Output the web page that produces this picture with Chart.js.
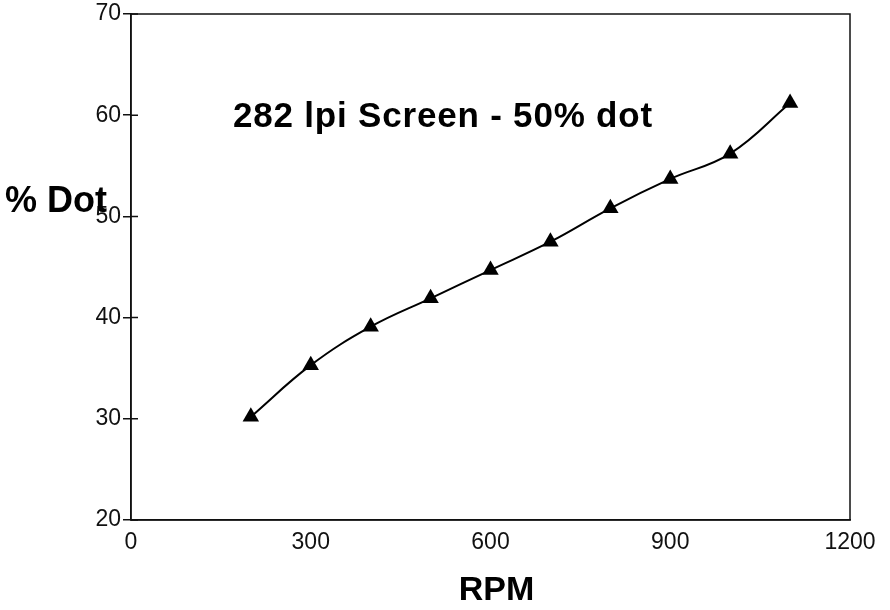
<!DOCTYPE html>
<html>
<head>
<meta charset="utf-8">
<title>282 lpi Screen - 50% dot</title>
<script src="https://cdn.jsdelivr.net/npm/chart.js@4/dist/chart.umd.min.js"></script>
<style>
  html, body { margin: 0; padding: 0; background: #fff; }
  #wrap { width: 890px; height: 610px; }
</style>
</head>
<body>
<div id="wrap"><canvas id="dotChart" width="890" height="610"></canvas></div>
<script>
  // press speed vs measured dot area
  const rpm = [200, 300, 400, 500, 600, 700, 800, 900, 1000, 1100];
  const dotPct = [30.2, 35.3, 39.1, 41.9, 44.7, 47.5, 50.8, 53.7, 56.2, 61.2];
  const xTicks = [0, 300, 600, 900, 1200];
  const yTicks = [20, 30, 40, 50, 60, 70];

  const chartTitle = "282 lpi Screen - 50% dot";
  const xTitle = "RPM";
  const yTitle = "% Dot";

  const fontFam = "'Liberation Sans', Arial, sans-serif";

  // frame, inner tick stubs and free text labels
  const textLabels = {
    id: 'textLabels',
    afterDraw(chart) {
      const { ctx, chartArea: a } = chart;
      const ys = chart.scales.y;
      ctx.save();
      ctx.strokeStyle = '#111';
      ctx.lineWidth = 1.5;
      ctx.strokeRect(a.left, a.top, a.right - a.left, a.bottom - a.top);
      ctx.beginPath();
      yTicks.forEach(v => {
        const py = ys.getPixelForValue(v);
        ctx.moveTo(a.left, py);
        ctx.lineTo(a.left + 7, py);
      });
      ctx.stroke();

      ctx.fillStyle = '#000';
      ctx.textBaseline = 'alphabetic';
      ctx.textAlign = 'left';
      ctx.font = "bold 35px " + fontFam;
      ctx.letterSpacing = '0.8px';
      ctx.fillText(chartTitle, 233, 127);
      ctx.letterSpacing = '0px';
      ctx.font = "bold 36px " + fontFam;
      ctx.fillText(yTitle, 5, 212);
      ctx.font = "bold 34px " + fontFam;
      ctx.textAlign = 'center';
      ctx.fillText(xTitle, (a.left + a.right) / 2 + 6, 600);
      ctx.restore();
    }
  };

  const data = {
    datasets: [{
      label: chartTitle,
      data: rpm.map((x, i) => ({ x: x, y: dotPct[i] })),
      borderColor: '#000',
      backgroundColor: '#000',
      borderWidth: 2,
      tension: 0.4,
      pointStyle: 'triangle',
      pointRadius: 9.5,
      pointBorderWidth: 0,
    }]
  };

  const config = {
    type: 'line',
    data: data,
    options: {
      responsive: false,
      animation: false,
      layout: { padding: { top: 14, right: 40, left: 0, bottom: 0 } },
      plugins: {
        legend: { display: false },
        tooltip: { enabled: false }
      },
      scales: {
        x: {
          type: 'linear',
          min: 0,
          max: 1200,
          afterBuildTicks: s => { s.ticks = xTicks.map(v => ({ value: v })) },
          afterFit: s => { s.height = 90 },
          grid: { display: false, drawTicks: false },
          border: { color: '#111', width: 1.5 },
          ticks: {
            padding: 11,
            color: '#111',
            callback: v => String(v),
            font: { family: fontFam, size: 23, lineHeight: 1 }
          }
        },
        y: {
          min: 20,
          max: 70,
          afterBuildTicks: s => { s.ticks = yTicks.map(v => ({ value: v })) },
          afterFit: s => { s.width = 131 },
          grid: { drawOnChartArea: false, drawTicks: true, tickLength: 8, color: '#111', lineWidth: 1.5 },
          border: { color: '#111', width: 1.5 },
          ticks: {
            padding: 2,
            color: '#111',
            font: { family: fontFam, size: 23, lineHeight: 1 }
          }
        }
      }
    },
    plugins: [textLabels]
  };

  new Chart(document.getElementById('dotChart'), config);
</script>
</body>
</html>
